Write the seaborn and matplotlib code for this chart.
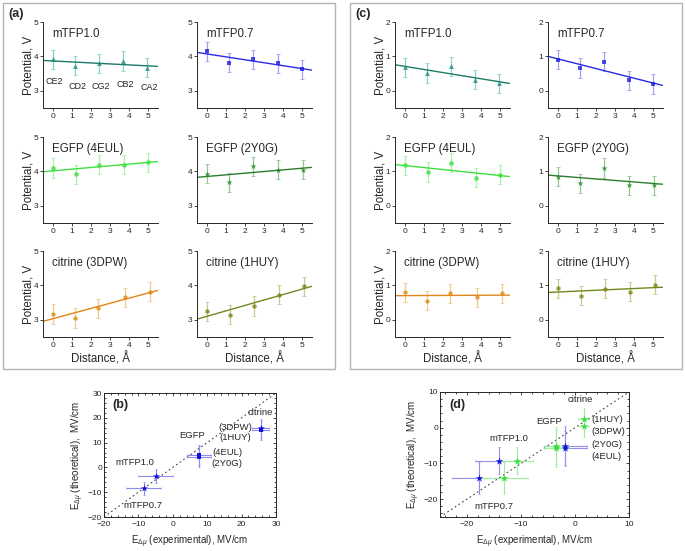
import numpy as np
import pandas as pd
import seaborn as sns
from matplotlib import pyplot as plt
from matplotlib.patches import Rectangle

# ---- data ----
proteins = ["mTFP1.0", "mTFP0.7", "EGFP (4EUL)", "EGFP (2Y0G)", "citrine (3DPW)", "citrine (1HUY)"]
distance = [
    [0, 1.2, 2.45, 3.7, 4.95],
    [0, 1.2, 2.45, 3.75, 5.0],
    [0, 1.25, 2.45, 3.75, 5.0],
    [0, 1.2, 2.45, 3.75, 5.05],
    [0, 1.2, 2.4, 3.8, 5.1],
    [0, 1.25, 2.5, 3.8, 5.1],
]
potential_a = [
    [3.92, 3.73, 3.80, 3.87, 3.67],
    [4.15, 3.82, 3.92, 3.80, 3.62],
    [4.10, 3.92, 4.20, 4.20, 4.27],
    [3.93, 3.68, 4.15, 4.05, 4.05],
    [3.17, 3.05, 3.33, 3.65, 3.82],
    [3.25, 3.15, 3.40, 3.73, 3.97],
]
potential_c = [
    [0.68, 0.52, 0.71, 0.32, 0.22],
    [0.90, 0.66, 0.85, 0.30, 0.20],
    [1.18, 0.98, 1.25, 0.82, 0.90],
    [0.85, 0.65, 1.10, 0.60, 0.60],
    [0.80, 0.56, 0.77, 0.65, 0.77],
    [0.92, 0.70, 0.90, 0.82, 1.02],
]
pot_err = 0.28
atom_names = ["CE2", "CD2", "CG2", "CB2", "CA2"]
atom_label_y = [3.26, 3.12, 3.12, 3.18, 3.1]

colors = ["#1b8a7e", "#1f1fe0", "#3ee03e", "#268a26", "#e08a12", "#7f8212"]
line_colors = ["#1e7a6a", "#2a2ae6", "#3ee03e", "#2e7d2e", "#e0861a", "#6f8a1e"]
err_colors = ["#8ed0c8", "#a0a0f0", "#a8f0a8", "#90c890", "#f0c890", "#c8c890"]
markers = ["^", "s", "o", "*", "h", "h"]

# panel (b)
b_names = ["mTFP0.7", "mTFP1.0", "EGFP 4EUL", "EGFP 2Y0G", "citrine 3DPW", "citrine 1HUY"]
b_exp = [-8.5, -5.0, 7.5, 7.5, 25.5, 25.5]
b_theo = [-8.5, -3.5, 5.0, 4.3, 15.7, 15.0]
b_exp_err = [5.0, 5.0, 3.5, 3.5, 2.5, 2.5]
b_theo_err = [2.7, 2.7, 4.2, 4.2, 3.8, 3.8]
b_marker = ["*", "*", "s", "s", "*", "s"]

# panel (d)
d_blue_exp = [-17.8, -14.0, -1.8, -1.8]
d_blue_theo = [-14.0, -9.2, -5.0, -5.8]
d_blue_exp_err = [4.9, 4.5, 4.0, 4.0]
d_blue_theo_err = [4.5, 3.8, 5.5, 5.0]
d_green_exp = [-13.2, -10.7, -3.5, -3.5, 1.6, 1.6]
d_green_theo = [-14.0, -9.2, -5.0, -5.8, 2.4, 0.4]
d_green_exp_err = [4.5, 3.0, 2.3, 2.3, 1.0, 1.0]
d_green_theo_err = [4.5, 3.7, 5.2, 5.2, 3.0, 3.0]

sns.set_style("ticks")
plt.rcParams['font.family'] = ['Liberation Sans', 'DejaVu Sans']
plt.rcParams['mathtext.fontset'] = 'custom'
plt.rcParams['mathtext.rm'] = 'Liberation Sans'
plt.rcParams['mathtext.it'] = 'Liberation Sans:italic'

fig = plt.figure(figsize=(6.85, 5.51), dpi=100)

# grey frames around (a) and (c)
for x0 in [0.0044, 0.511]:
    fig.patches.append(Rectangle((x0, 0.330), 0.4847, 0.664, transform=fig.transFigure,
                                 fill=False, edgecolor="#b4b4b4", linewidth=1.0))
fig.text(0.012, 0.975, "(a)", fontsize=9, fontweight="bold", va="center")
fig.text(0.519, 0.975, "(c)", fontsize=9, fontweight="bold", va="center")

col_left = [[0.0628, 0.2876], [0.5766, 0.8000]]
row_bottom = [0.804, 0.5953, 0.3884]
w, h = 0.1672, 0.156
marker_size = {"^": 12, "s": 9, "o": 11, "*": 22, "h": 12}


def small_panel(ax, i, yvals, ylim, yticks, left_col, bottom_row):
    ax.set_xlim(-0.5, 5.5)
    ax.set_ylim(*ylim)
    ax.errorbar(distance[i], yvals, yerr=pot_err, fmt="none", ecolor=err_colors[i],
                elinewidth=0.9, capsize=1.2, capthick=0.6, zorder=1)
    sns.regplot(x=distance[i], y=yvals, ax=ax, ci=None, truncate=False, marker=markers[i],
                scatter_kws=dict(s=marker_size[markers[i]], color=colors[i], zorder=3, linewidths=0),
                line_kws=dict(color=line_colors[i], lw=1.0, zorder=2))
    ax.set_xlim(-0.5, 5.5)
    ax.set_xticks(range(6))
    ax.set_yticks(yticks)
    ax.tick_params(labelsize=6, length=2, width=0.6, pad=1.5)
    for s in ["top", "right"]:
        ax.spines[s].set_visible(False)
    for s in ["left", "bottom"]:
        ax.spines[s].set_linewidth(0.7)
    ax.text(0.08, 0.93, proteins[i], transform=ax.transAxes, fontsize=8.3, va="top")
    ax.set_ylabel("Potential, V" if left_col else "", fontsize=8.3, labelpad=-1)
    ax.set_xlabel("Distance, Å" if bottom_row else "", fontsize=8.3, labelpad=2)


for g, (pots, ylim, yticks) in enumerate([(potential_a, (2.5, 5), [3, 4, 5]),
                                          (potential_c, (-0.5, 2), [0, 1, 2])]):
    for i in range(6):
        r, c = divmod(i, 2)
        ax = fig.add_axes([col_left[g][c], row_bottom[r], w, h])
        small_panel(ax, i, pots[i], ylim, yticks, c == 0, r == 2)
        if g == 0 and i == 0:
            for name, xx, yy in zip(atom_names, distance[0], atom_label_y):
                ax.text(xx + 0.1, yy, name, fontsize=6.5, ha="center", va="center")


def corr_style(ax, lim, ticks):
    ax.set_xlim(*lim)
    ax.set_ylim(*lim)
    ax.set_xticks(ticks)
    ax.set_yticks(ticks)
    ax.minorticks_on()
    ax.tick_params(which="both", direction="in", top=True, right=True, labelsize=6, width=0.6, pad=1.5)
    ax.tick_params(axis="x", pad=3)
    ax.tick_params(which="major", length=2.5)
    ax.tick_params(which="minor", length=1.2)
    for s in ax.spines.values():
        s.set_linewidth(0.7)
    ax.axline((0, 0), slope=1, color="#444444", ls=(0, (1.5, 2.5)), lw=0.8, zorder=0)


def corr_labels(ax):
    ax.set_xlabel(r"E$_{\Delta\mu}$ (experimental), MV/cm", fontsize=7, labelpad=4)
    ax.set_ylabel(r"E$_{\Delta\mu}$ (theoretical),  MV/cm", fontsize=7, labelpad=1)


# ---- panel (b) ----
axb = fig.add_axes([0.1518, 0.0617, 0.2511, 0.225])
corr_style(axb, (-20, 30), [-20, -10, 0, 10, 20, 30])
axb.errorbar(b_exp, b_theo, xerr=b_exp_err, yerr=b_theo_err, fmt="none",
             ecolor="#8c8cf0", elinewidth=0.8, capsize=1, capthick=0.5, zorder=1)
dfb = pd.DataFrame(dict(exp=b_exp, theo=b_theo, m=b_marker))
sns.scatterplot(data=dfb[dfb.m == "s"], x="exp", y="theo", marker="s",
                color="#1010e0", s=12, linewidth=0, legend=False, ax=axb, zorder=3)
sns.scatterplot(data=dfb[dfb.m == "*"], x="exp", y="theo", marker="*",
                color="#1010e0", s=28, linewidth=0, legend=False, ax=axb, zorder=3)
corr_labels(axb)
axb.text(-17.7, 25.2, "(b)", fontsize=9, fontweight="bold", va="center")
for txt, xx, yy in [("citrine", 25.3, 22.3), ("(3DPW)", 18.1, 15.9), ("(1HUY)", 18.1, 11.9),
                    ("EGFP", 5.6, 13.0), ("(4EUL)", 15.8, 6.2), ("(2Y0G)", 15.8, 1.4),
                    ("mTFP1.0", -11.0, 1.8), ("mTFP0.7", -8.6, -15.5)]:
    axb.text(xx, yy, txt, fontsize=6.8, ha="center", va="center")

# ---- panel (d) ----
axd = fig.add_axes([0.6423, 0.0617, 0.2759, 0.2269])
corr_style(axd, (-25, 10), [-20, -10, 0, 10])
axd.errorbar(d_blue_exp, d_blue_theo, xerr=d_blue_exp_err, yerr=d_blue_theo_err, fmt="none",
             ecolor="#9090ee", elinewidth=0.8, capsize=1, capthick=0.5, zorder=1)
axd.errorbar(d_green_exp, d_green_theo, xerr=d_green_exp_err, yerr=d_green_theo_err, fmt="none",
             ecolor="#9cee9c", elinewidth=0.8, capsize=1, capthick=0.5, zorder=1)
sns.scatterplot(x=d_green_exp, y=d_green_theo, marker="*", color="#33e033", s=32,
                linewidth=0, ax=axd, zorder=3)
sns.scatterplot(x=d_blue_exp, y=d_blue_theo, marker="*", color="#1515d8", s=32,
                linewidth=0, ax=axd, zorder=4)
corr_labels(axd)
axd.text(-23.3, 6.3, "(d)", fontsize=9, fontweight="bold", va="center")
for txt, xx, yy, ha in [("citrine", 1.0, 7.8, "center"), ("(1HUY)", 3.0, 2.2, "left"),
                        ("(3DPW)", 3.0, -1.2, "left"), ("(2Y0G)", 3.0, -4.8, "left"),
                        ("(4EUL)", 3.0, -8.2, "left"), ("EGFP", -4.8, 1.7, "center"),
                        ("mTFP1.0", -12.3, -2.9, "center"), ("mTFP0.7", -15.0, -22.0, "center")]:
    axd.text(xx, yy, txt, fontsize=6.8, ha=ha, va="center")

fig.savefig("out.png", dpi=100)
